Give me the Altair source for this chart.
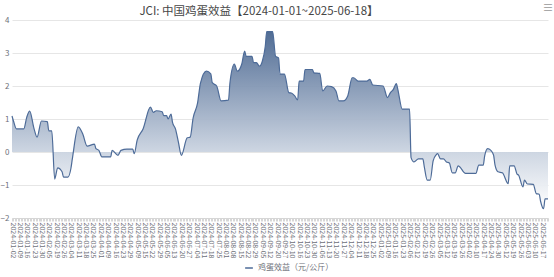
import json
import altair as alt
import pandas as pd

# trading-day index since 2024-01-02 and egg margin values (元/公斤)
day = [0, 1, 3, 8, 10, 12, 15, 17, 20, 24, 25, 27, 29, 31, 34, 35, 38, 40, 41, 45,
       48, 51, 56, 57, 59, 61, 67, 68, 72, 74, 78, 82, 83, 85, 89, 94, 96, 98, 102, 103,
       105, 106, 108, 109, 111, 113, 115, 119, 121, 123, 126, 128, 132, 135, 136, 139, 142, 147, 148, 151,
       153, 156, 158, 159, 163, 164, 166, 168, 170, 172, 173, 177, 179, 181, 182, 185, 188, 190, 192, 194,
       195, 198, 199, 204, 205, 209, 211, 214, 217, 220, 222, 225, 228, 231, 232, 235, 241, 243, 245, 252,
       255, 257, 259, 261, 262, 265, 270, 271, 273, 276, 279, 280, 282, 284, 286, 288, 289, 291, 293, 295,
       297, 299, 301, 303, 304, 308, 315, 317, 320, 321, 323, 324, 327, 328, 330, 333, 337, 338, 341, 343,
       344, 347, 348, 350, 354, 356, 358, 359, 361, 362, 364]
value = [1.09, 0.94, 0.70, 0.70, 1.05, 1.24, 0.70, 0.45, 0.94, 0.92, 0.64, 0.64, -0.82, -0.48, -0.60, -0.76, -0.76, -0.50, -0.20, 0.76,
         0.55, 0.18, 0.24, 0.10, 0.05, -0.15, -0.15, 0.05, -0.10, 0.05, 0.09, 0.09, -0.05, 0.36, 0.70, 1.36, 1.20, 1.25, 1.22, 1.10,
         1.10, 1.00, 1.15, 0.90, 0.70, 0.30, -0.10, 0.43, 0.45, 1.03, 1.48, 2.09, 2.45, 2.37, 2.10, 2.00, 1.55, 1.57, 2.09, 2.66,
         2.45, 2.66, 3.06, 2.90, 2.90, 2.71, 2.71, 2.60, 2.75, 3.20, 3.65, 3.65, 2.90, 2.85, 2.36, 2.36, 1.80, 1.78, 1.70, 1.58,
         2.15, 2.15, 2.50, 2.50, 2.40, 2.38, 1.85, 2.00, 1.98, 1.85, 1.55, 1.55, 1.70, 2.25, 2.25, 2.15, 2.15, 2.20, 2.03, 2.00,
         1.65, 1.80, 1.90, 2.07, 1.90, 1.30, 1.30, -0.17, -0.30, -0.21, -0.21, -0.45, -0.85, -0.85, -0.27, -0.09, -0.05, -0.21, -0.21, -0.30,
         -0.33, -0.63, -0.63, -0.42, -0.45, -0.65, -0.65, -0.40, -0.40, -0.12, 0.10, 0.09, -0.09, -0.39, -0.60, -0.63, -0.96, -0.42, -0.42, -0.67,
         -0.70, -1.06, -0.85, -0.97, -0.98, -1.26, -1.28, -1.50, -1.72, -1.42, -1.42]

tick_labels = [
    "2024-01-02", "2024-01-09", "2024-01-16", "2024-01-23", "2024-01-30", "2024-02-05", "2024-02-19", "2024-02-26",
    "2024-03-04", "2024-03-11", "2024-03-18", "2024-03-25", "2024-04-01", "2024-04-09", "2024-04-16", "2024-04-23",
    "2024-04-29", "2024-05-09", "2024-05-15", "2024-05-22", "2024-05-29", "2024-06-05", "2024-06-13", "2024-06-20",
    "2024-06-27", "2024-07-04", "2024-07-11", "2024-07-18", "2024-07-25", "2024-08-01", "2024-08-08", "2024-08-15",
    "2024-08-22", "2024-08-29", "2024-09-05", "2024-09-12", "2024-09-20", "2024-09-27", "2024-10-10", "2024-10-16",
    "2024-10-23", "2024-10-30", "2024-11-06", "2024-11-13", "2024-11-20", "2024-11-27", "2024-12-04", "2024-12-11",
    "2024-12-18", "2024-12-25", "2025-01-02", "2025-01-09", "2025-01-16", "2025-01-23", "2025-02-06", "2025-02-12",
    "2025-02-19", "2025-02-26", "2025-03-05", "2025-03-12", "2025-03-19", "2025-03-26", "2025-04-02", "2025-04-10",
    "2025-04-17", "2025-04-24", "2025-04-30", "2025-05-12", "2025-05-19", "2025-05-26", "2025-06-03", "2025-06-10",
    "2025-06-17",
]

series_name = "鸡蛋效益（元/公斤）"
title_text = "JCI: 中国鸡蛋效益【2024-01-01~2025-06-18】"
y_ticks = [-2, -1, 0, 1, 2, 3, 4]

df = pd.DataFrame({"day": day, "value": value, "series": series_name})

FONT = "Noto Sans CJK SC"
label_expr = "datum.value % 5 == 0 ? " + json.dumps(tick_labels) + "[datum.value / 5] : ''"

x_enc = alt.X(
    "day:Q",
    scale=alt.Scale(domain=[0, 364], nice=False, zero=False),
    axis=alt.Axis(
        title=None,
        values=list(range(0, 365)),
        labelExpr=label_expr,
        labelAngle=90,
        labelAlign="left",
        labelBaseline="middle",
        labelFontSize=7,
        labelColor="#6e7079",
        labelFont=FONT,
        labelPadding=1,
        labelOverlap=False,
        labelFlush=False,
        grid=False,
        domainColor="#d6d6d6",
        tickColor="#d6d6d6",
        tickSize=3,
    ),
)
y_enc = alt.Y(
    "value:Q",
    scale=alt.Scale(domain=[-2, 4], nice=False),
    axis=alt.Axis(
        title=None,
        values=y_ticks,
        labelFontSize=8,
        labelColor="#6e7079",
        labelFont=FONT,
        labelPadding=3,
        domain=False,
        ticks=False,
        gridColor="#e6e6e6",
    ),
)

gradient = alt.Gradient(
    gradient="linear",
    stops=[
        alt.GradientStop(color="#48658f", offset=0),
        alt.GradientStop(color="#cbd4e1", offset=0.68),
        alt.GradientStop(color="#ffffff", offset=1),
    ],
    x1=1, x2=1, y1=0, y2=1,
)

base = alt.Chart(df)
area = base.mark_area(interpolate="monotone", fill=gradient, opacity=0.95).encode(
    x=x_enc, y=y_enc, y2=alt.datum(0)
)
line = base.mark_line(interpolate="monotone", strokeWidth=1.2).encode(
    x=x_enc,
    y=y_enc,
    color=alt.Color(
        "series:N",
        scale=alt.Scale(range=["#4d6b98"]),
        legend=alt.Legend(
            title=None,
            orient="none",
            legendX=232,
            legendY=243,
            symbolType="stroke",
            symbolStrokeWidth=1.5,
            symbolSize=60,
            labelFontSize=8,
            labelColor="#6e7079",
            labelFont=FONT,
        ),
    ),
)
title = alt.Chart(pd.DataFrame({"t": [title_text]})).mark_text(
    fontSize=11.5, color="#464646", font=FONT, align="center", baseline="middle"
).encode(text="t:N", x=alt.value(247), y=alt.value(-8))
menu = alt.Chart(pd.DataFrame({"t": ["≡"]})).mark_text(
    fontSize=11, color="#999999", font=FONT, align="center", baseline="middle"
).encode(text="t:N", x=alt.value(536), y=alt.value(-11))

chart = (
    alt.layer(area, line, title, menu)
    .properties(
        width=536,
        height=198,
        autosize=alt.AutoSizeParams(type="none"),
        padding={"left": 12, "top": 20, "right": 6, "bottom": 59},
    )
    .configure_view(stroke=None)
)

chart.save("out.html", embed_options={"renderer": "svg", "actions": False})
